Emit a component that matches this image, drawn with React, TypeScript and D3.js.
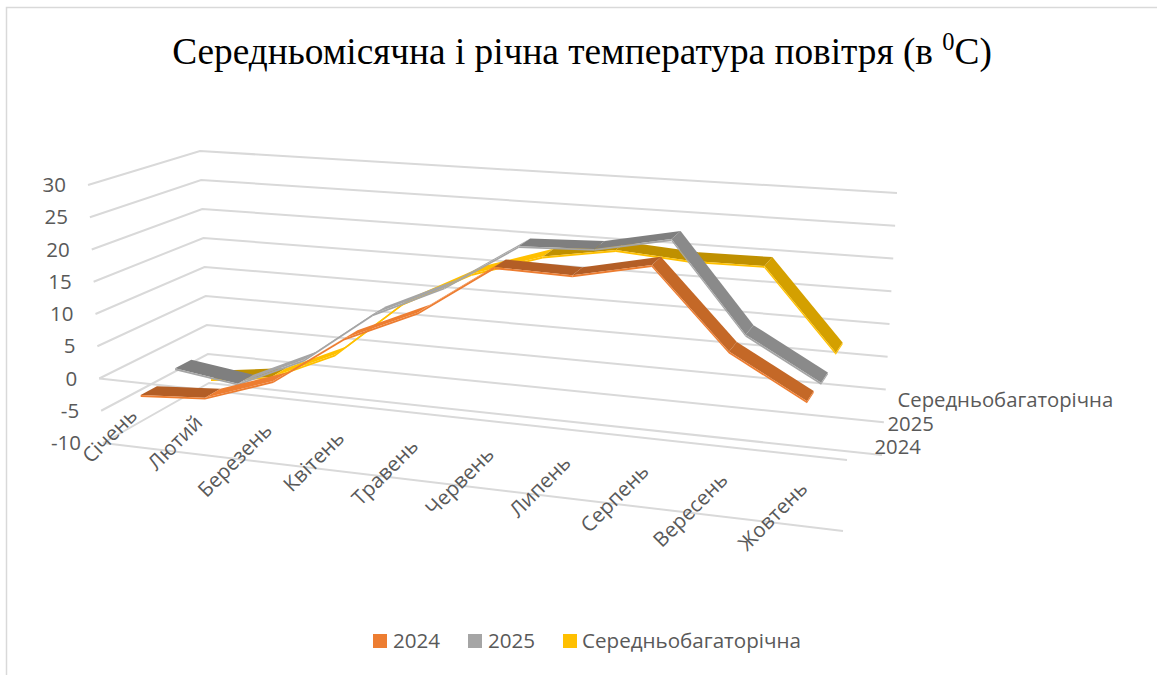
import React from "react";
import * as d3 from "d3";

const months = ["Січень","Лютий","Березень","Квітень","Травень","Червень","Липень","Серпень","Вересень","Жовтень"];
const values2024 = [-2.8,-2.1,1.6,9.2,14.2,22,21.8,24.3,12.8,6.8];
const values2025 = [-1.5,-2.9,2,10.2,15.4,22.7,23.2,25.6,12.3,6.3];
const valuesAvg = [-6.4,-5,-0.2,9,14.8,18.5,20.4,19.6,19.7,7.5];
const seriesNames = ["2024","2025","Середньобагаторічна"];
const valueTicks = [30,25,20,15,10,5,0,-5,-10];
const titleMain = "Середньомісячна і річна температура повітря (в ";

const W = 1157, H = 675;
const seriesValues = [values2024, values2025, valuesAvg];
const sideColors = ["#ED7D31","#A5A5A5","#FFC000"];
const flatColors = ["#B35E26","#7F7F7F","#BF9000"];
const fallColors = ["#C46827","#8A8A8A","#D4A000"];

// Corners of the 3D box on screen, bottom (value -10) and top (value 30)
const box = {
  FL: [[103,443],[88,185]], FR: [[843,531],[859,247]],
  BL: [[209,383],[200,151]], BR: [[882,455],[897,193]],
};
const valT = d3.scaleLinear().domain([-10,30]).range([0,1]);
const warp = d3.scalePow().exponent(1.09).domain([0,1]).range([0.004,0.992]);
const band = d3.scaleBand<string>().domain(months).range([0,1]);
const depth = d3.scaleBand<string>().domain(seriesNames).range([0,1]);
const catU = (i:number) => warp((band(months[i]) as number) + band.bandwidth()/2);
const serW = (s:number) => (depth(seriesNames[s]) as number) + depth.bandwidth()/2;
const lerp = (a:number,b:number,t:number) => a+(b-a)*t;
function project(u:number, v:number, w:number):[number,number] {
  const t = valT(v);
  const at = (k:0|1) => {
    const out:number[] = [];
    for (let c=0;c<2;c++) {
      const f = lerp(box.FL[k][c], box.FR[k][c], u);
      const b = lerp(box.BL[k][c], box.BR[k][c], u);
      out.push(lerp(f,b,w));
    }
    return out;
  };
  const lo = at(0), hi = at(1);
  return [lerp(lo[0],hi[0],t), lerp(lo[1],hi[1],t)];
}
const line = d3.line();
const quad = (pts:[number,number][]) => line(pts)+"Z";
const HALF = 0.078, THICK = 0.3;
const labelFont = "'Open Sans','Noto Sans',sans-serif";
const grid = "#D9D9D9";

function Ribbon({s}:{s:number}) {
  const vals = seriesValues[s];
  const w0 = serW(s)-HALF, w1 = serW(s)+HALF;
  const parts:React.ReactNode[] = [];
  for (let i=0;i<vals.length-1;i++) {
    const u0=catU(i), u1=catU(i+1), a=vals[i], b=vals[i+1];
    const d=b-a;
    const top = d>3 ? sideColors[s] : d<-3 ? fallColors[s] : flatColors[s];
    parts.push(<path key={"t"+i} fill={top} d={quad([project(u0,a,w0),project(u1,b,w0),project(u1,b,w1),project(u0,a,w1)])}/>);
    parts.push(<path key={"s"+i} fill={sideColors[s]} d={quad([project(u0,a,w0),project(u1,b,w0),project(u1,b-THICK,w0),project(u0,a-THICK,w0)])}/>);
  }
  const n=vals.length-1, ue=catU(n), ve=vals[n];
  parts.push(<path key="end" fill={sideColors[s]} d={quad([project(ue,ve,w0),project(ue,ve,w1),project(ue,ve-THICK,w1),project(ue,ve-THICK,w0)])}/>);
  return <g>{parts}</g>;
}

export default function App() {
  const legendX = [[373,393],[468,488],[563,582]];
  return (
    <svg width={W} height={H} style={{position:"absolute",left:0,top:0,background:"#fff"}}>
      <path d="M1157 7.5H6.5V675" fill="none" stroke={grid} strokeWidth={1.5}/>
      <text x={582} y={64} textAnchor="middle" fontFamily="'Liberation Serif',serif" fontSize={37.3} fill="#000">
        {titleMain}<tspan fontSize={24.5} dy={-14}>0</tspan><tspan dy={14}>С)</tspan>
      </text>
      {valueTicks.map(v=>{
        const f=project(0,v,0), b=project(0,v,1), r=project(1,v,1);
        return <g key={v}>
          <path d={line([f,b,r]) as string} fill="none" stroke={grid} strokeWidth={2}/>
          <text x={f[0]-22} y={f[1]+7} textAnchor="end" fontFamily={labelFont} fontSize={20.5} fill="#595959">{v}</text>
        </g>;
      })}
      {[0,-10].map(v=><path key={v} d={line([project(0,v,0),project(1,v,0)]) as string} fill="none" stroke={grid} strokeWidth={2}/>)}
      {[2,1,0].map(s=><Ribbon key={s} s={s}/>)}
      {months.map((m,i)=>{
        const [x,y]=project(catU(i),0,0);
        return <text key={m} transform={`translate(${x+8},${y+35}) rotate(-45)`} textAnchor="end" fontFamily={labelFont} fontSize={20.5} fill="#595959">{m}</text>;
      })}
      {seriesNames.map((n,s)=>{
        const x=project(1,-10,serW(s))[0]+(s===2?22:25), y=project(1,0,serW(s))[1]+6;
        return <text key={n} x={x} y={y} fontFamily={labelFont} fontSize={20.3} fill="#595959">{n}</text>;
      })}
      {seriesNames.map((n,s)=><g key={n}>
        <rect x={legendX[s][0]} y={634} width={14} height={14} fill={sideColors[s]}/>
        <text x={legendX[s][1]} y={648} fontFamily={labelFont} fontSize={20.6} fill="#595959">{n}</text>
      </g>)}
    </svg>
  );
}
